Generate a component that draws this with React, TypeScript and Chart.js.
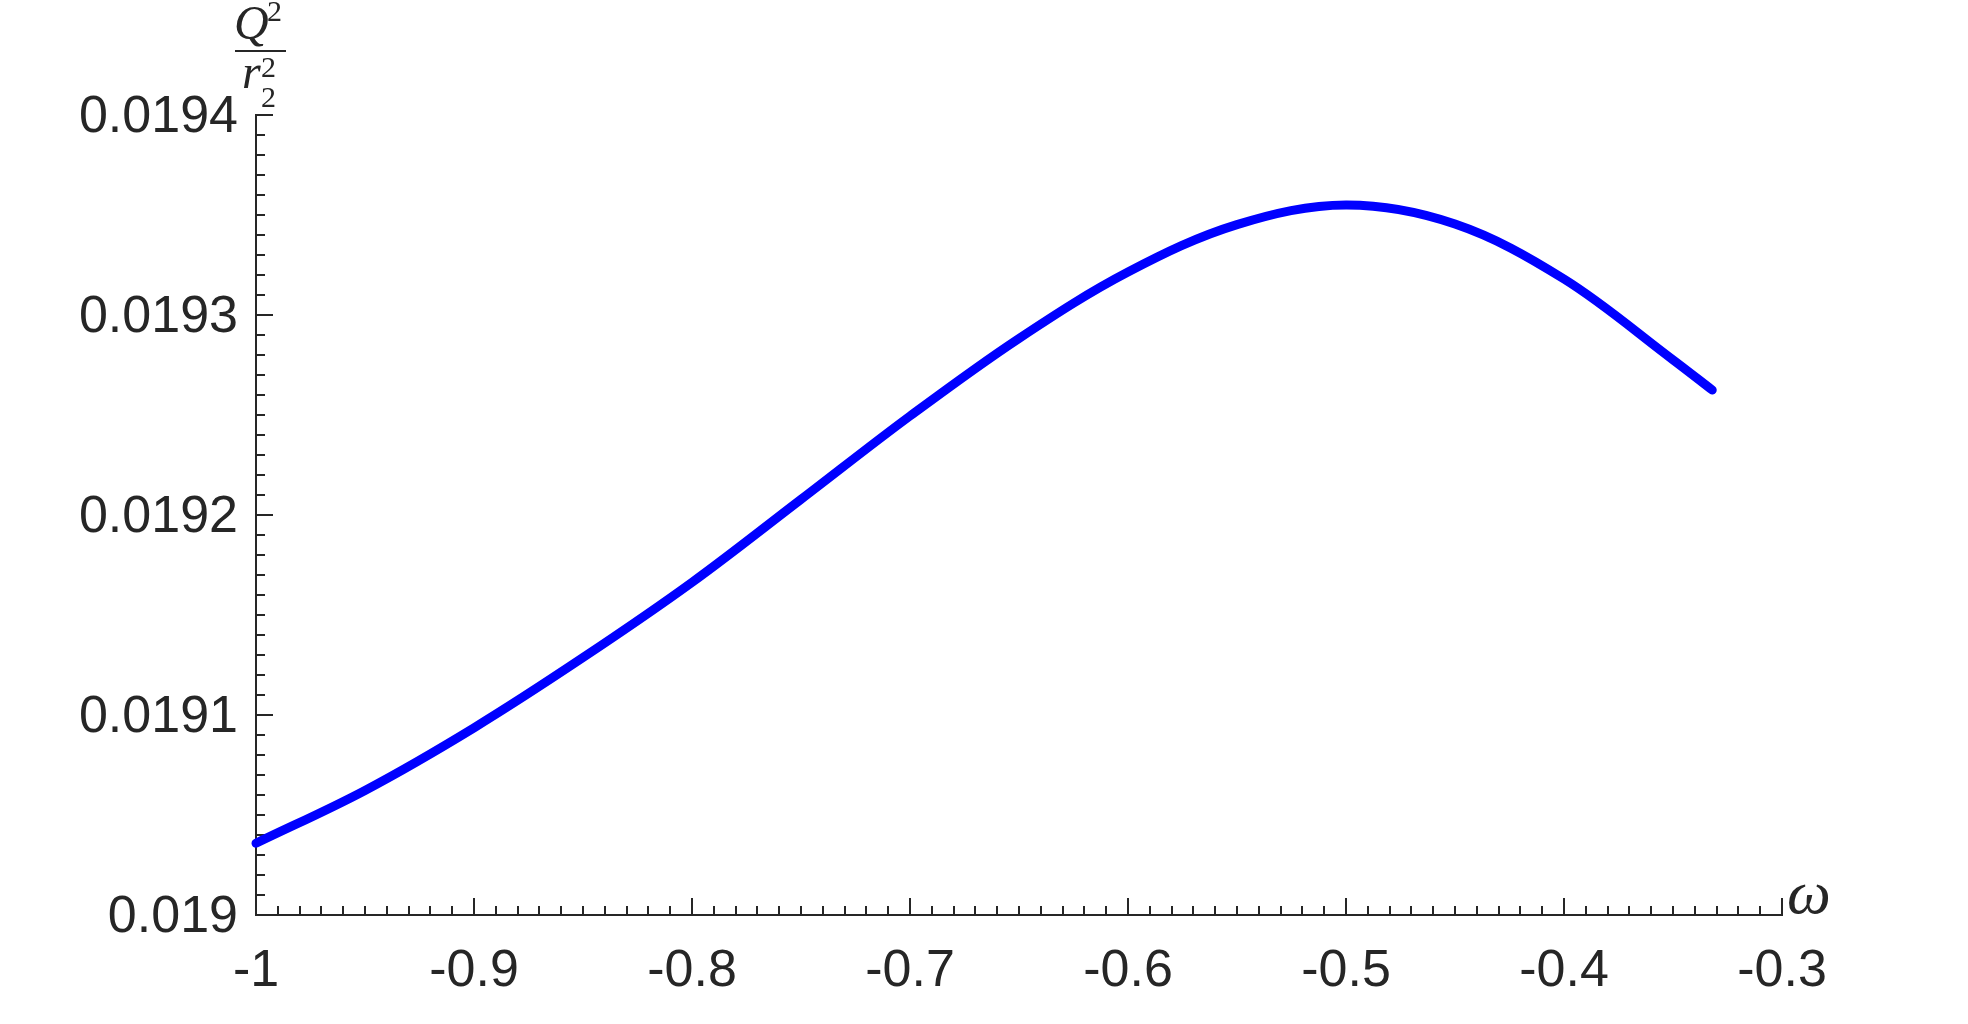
import React, { useEffect, useRef } from "react";
import { Chart, registerables } from "chart.js";

Chart.register(...registerables);

// ---- data ----
const omega = [
  -1.0, -0.95, -0.9, -0.85, -0.8, -0.75, -0.7, -0.65, -0.6, -0.55, -0.5, -0.45, -0.4,
  -0.35, -0.332,
];
const q2r2 = [
  0.0190359, 0.0190623, 0.0190936, 0.0191287, 0.0191663, 0.0192078, 0.0192495, 0.0192883,
  0.0193215, 0.0193452, 0.019355, 0.0193455, 0.019318, 0.0192776, 0.0192625,
];

const xTickValues = [-1, -0.9, -0.8, -0.7, -0.6, -0.5, -0.4, -0.3];
const xTickLabels = ["-1", "-0.9", "-0.8", "-0.7", "-0.6", "-0.5", "-0.4", "-0.3"];
const yTickValues = [0.019, 0.0191, 0.0192, 0.0193, 0.0194];
const yTickLabels = ["0.019", "0.0191", "0.0192", "0.0193", "0.0194"];
const minorPerMajor = 10;

const AXIS_COLOR = "#262626";
const TEXT_COLOR = "#262626";
const LINE_COLOR = "#0000ff";

type TickDef = { value: number; label: string; major: boolean };

function buildTicks(values: number[], labels: string[]): TickDef[] {
  const out: TickDef[] = [];
  for (let i = 0; i < values.length - 1; i++) {
    const step = (values[i + 1] - values[i]) / minorPerMajor;
    for (let j = 0; j < minorPerMajor; j++) {
      out.push({ value: values[i] + j * step, label: j === 0 ? labels[i] : "", major: j === 0 });
    }
  }
  out.push({ value: values[values.length - 1], label: labels[labels.length - 1], major: true });
  return out;
}

const xTicks = buildTicks(xTickValues, xTickLabels);
const yTicks = buildTicks(yTickValues, yTickLabels);

const inwardTicks = {
  id: "inwardTicks",
  beforeDatasetsDraw(chart: any) {
    const { ctx, chartArea, scales } = chart;
    const x = scales.x;
    const y = scales.y;
    ctx.save();
    ctx.strokeStyle = AXIS_COLOR;
    ctx.lineWidth = 2;
    ctx.beginPath();
    xTicks.forEach((t) => {
      const px = Math.round(x.getPixelForValue(t.value));
      const len = t.major ? 17 : 9;
      ctx.moveTo(px, chartArea.bottom);
      ctx.lineTo(px, chartArea.bottom - len);
    });
    yTicks.forEach((t) => {
      const py = Math.round(y.getPixelForValue(t.value));
      const len = t.major ? 17 : 9;
      ctx.moveTo(chartArea.left, py);
      ctx.lineTo(chartArea.left + len, py);
    });
    ctx.stroke();
    ctx.restore();
  },
};

const axisTitles = {
  id: "axisTitles",
  afterDraw(chart: any) {
    const { ctx, chartArea } = chart;
    ctx.save();
    ctx.fillStyle = TEXT_COLOR;
    ctx.textAlign = "left";
    ctx.textBaseline = "alphabetic";
    const L = chartArea.left; // 256
    // y-axis title: Q^2 / r_2^2
    ctx.font = 'italic 48px "Liberation Serif", serif';
    ctx.fillText("Q", L - 22, 39);
    ctx.font = '30px "Liberation Serif", serif';
    ctx.fillText("2", L + 11, 21);
    ctx.fillRect(L - 21, 50, 51, 2);
    ctx.font = 'italic 48px "Liberation Serif", serif';
    ctx.fillText("r", L - 14, 88);
    ctx.font = '30px "Liberation Serif", serif';
    ctx.fillText("2", L + 5, 77);
    ctx.fillText("2", L + 5, 107);
    // x-axis title: omega
    ctx.font = 'italic 62px "Liberation Serif", serif';
    ctx.fillText("ω", chartArea.right + 5, chartArea.bottom - 2);
    ctx.restore();
  },
};

export default function App() {
  const canvasRef = useRef<HTMLCanvasElement | null>(null);

  useEffect(() => {
    document.body.style.margin = "0";
    const canvas = canvasRef.current;
    if (!canvas) return;
    const points = omega.map((w, i) => ({ x: w, y: q2r2[i] }));
    const tickFont = { family: '"Liberation Sans", Arial, sans-serif', size: 52 };
    const chart = new Chart(canvas, {
      type: "line",
      data: {
        datasets: [
          {
            data: points,
            borderColor: LINE_COLOR,
            backgroundColor: LINE_COLOR,
            borderWidth: 9,
            pointRadius: 0,
            tension: 0.35,
            fill: false,
            borderCapStyle: "round",
            borderJoinStyle: "round",
            clip: false,
          } as any,
        ],
      },
      options: {
        animation: false,
        responsive: false,
        devicePixelRatio: 1,
        layout: { padding: { left: 0, top: 115, right: 186, bottom: 0 } },
        plugins: { legend: { display: false }, tooltip: { enabled: false } },
        scales: {
          x: {
            type: "linear",
            min: -1,
            max: -0.3,
            grid: { display: false, drawTicks: false },
            border: { display: true, color: AXIS_COLOR, width: 2 },
            afterBuildTicks: (scale: any) => {
              scale.ticks = xTicks.map((t) => ({ value: t.value }));
            },
            afterFit: (scale: any) => {
              scale.height = 109;
            },
            ticks: {
              autoSkip: false,
              maxRotation: 0,
              minRotation: 0,
              padding: 25,
              color: TEXT_COLOR,
              font: tickFont,
              callback: (_v: any, i: number) => xTicks[i].label,
            },
          },
          y: {
            type: "linear",
            min: 0.019,
            max: 0.0194,
            grid: { display: false, drawTicks: false },
            border: { display: true, color: AXIS_COLOR, width: 2 },
            afterBuildTicks: (scale: any) => {
              scale.ticks = yTicks.map((t) => ({ value: t.value }));
            },
            afterFit: (scale: any) => {
              scale.width = 256;
            },
            ticks: {
              autoSkip: false,
              padding: 18,
              labelOffset: 3,
              color: TEXT_COLOR,
              font: tickFont,
              callback: (_v: any, i: number) => yTicks[i].label,
            },
          },
        },
      },
      plugins: [inwardTicks, axisTitles],
    });
    return () => chart.destroy();
  }, []);

  return (
    <div style={{ width: 1968, height: 1024, background: "#fff" }}>
      <canvas ref={canvasRef} width={1968} height={1024} style={{ display: "block" }} />
    </div>
  );
}
